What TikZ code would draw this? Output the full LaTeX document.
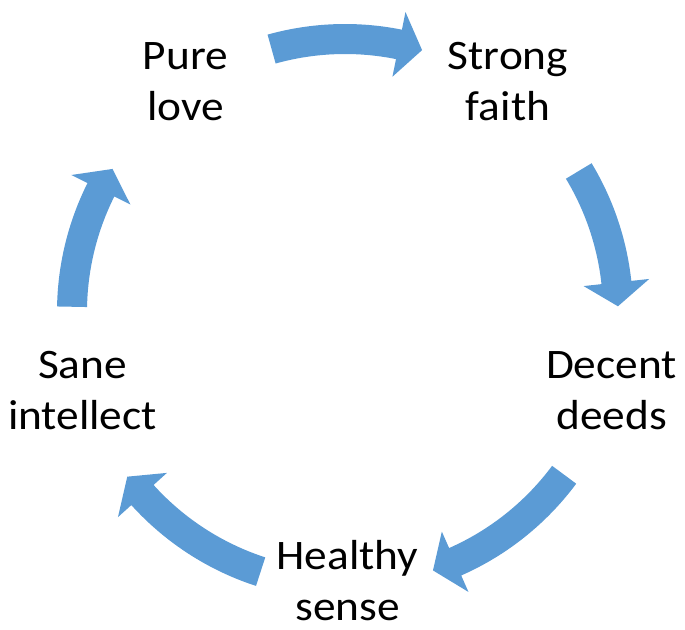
\documentclass[tikz,border=0pt]{standalone}
\usepackage{fontspec}
\setmainfont[FakeStretch=1.08]{Carlito}
\definecolor{arrowblue}{RGB}{91,155,213}
\tikzset{
  cyclearrow/.style={fill=arrowblue},
  steplabel/.style={align=center, anchor=base, inner sep=0pt,
    font=\fontsize{42}{51}\selectfont}
}

\begin{document}
\begin{tikzpicture}[x=1pt,y=1pt]
  \useasboundingbox (0,0) rectangle (685,629);
  \coordinate (O) at (345,317);

  \begin{scope}[shift={(O)}]
    \foreach \a/\b [evaluate=\b as \c using \b+5] in
      {105.6/73.6, 31.1/1.2, -36.6/-71.2, -108/-142.9, 178.9/148.4}
      \fill[cyclearrow] (\a:288) arc[start angle=\a, end angle=\c, radius=288]
        -- (\c:306) -- (\b:273) -- (\c:240) -- (\c:258)
        arc[start angle=\c, end angle=\a, radius=258] -- cycle;
  \end{scope}

  \node[steplabel] (love) at (185.5,508) {Pure\\love};
  \node[steplabel] (faith) at (508,508) {Strong\\faith};
  \node[steplabel] (deeds) at (611.5,199) {Decent\\deeds};
  \node[steplabel] (sense) at (347.5,9) {Healthy\\sense};
  \node[steplabel] (intellect) at (82.5,199) {Sane\\intellect};

\end{tikzpicture}
\end{document}
